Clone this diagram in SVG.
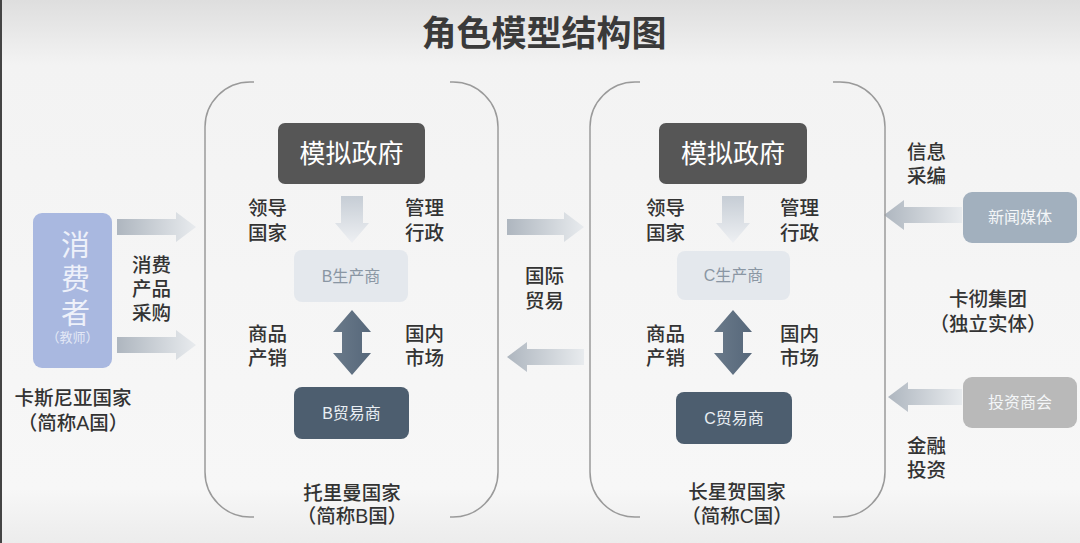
<svg xmlns="http://www.w3.org/2000/svg" width="1080" height="543" viewBox="0 0 1080 543">
<defs>
<linearGradient id="bg" x1="0" y1="0" x2="0" y2="1">
<stop offset="0" stop-color="#dedede"/>
<stop offset="0.12" stop-color="#f3f3f3"/>
<stop offset="0.9" stop-color="#f7f7f7"/>
<stop offset="1" stop-color="#ececec"/>
</linearGradient>
<linearGradient id="hArrow" x1="0" y1="0" x2="1" y2="0">
<stop offset="0" stop-color="#aeb6bf"/>
<stop offset="1" stop-color="#e8ebee"/>
</linearGradient>
<linearGradient id="vArrow" x1="0" y1="0" x2="0" y2="1">
<stop offset="0" stop-color="#c6cdd5"/>
<stop offset="1" stop-color="#eef0f3"/>
</linearGradient>
<linearGradient id="dArrow" x1="0" y1="0" x2="1" y2="0">
<stop offset="0" stop-color="#6a7a8a"/>
<stop offset="1" stop-color="#56677a"/>
</linearGradient>
<style>
text{font-family:"Liberation Sans","Noto Sans CJK SC",sans-serif;}
.title{font-size:35px;font-weight:700;fill:#3a3a3a;text-anchor:middle;}
.lbl{font-size:19.5px;font-weight:500;fill:#333;}
.ctr{text-anchor:middle;}
.frame{fill:none;stroke:#9a9a9a;stroke-width:1.5;}
.gov{fill:#565656;}
.govt{font-size:26px;fill:#ffffff;text-anchor:middle;}
.prod{fill:#e4e8ed;}
.prodt{font-size:16px;fill:#8a96a3;text-anchor:middle;}
.trade{fill:#4d5e6f;}
.tradet{font-size:16px;fill:#e9eef3;text-anchor:middle;}
.media{fill:#a2b0be;}
.invest{fill:#b9b9b9;}
.sidet{font-size:16px;fill:#f4f6f8;text-anchor:middle;}
</style>
</defs>
<rect x="0" y="0" width="1080" height="543" fill="url(#bg)"/>
<rect x="0" y="0" width="2" height="543" fill="#444"/>
<text class="title" x="544" y="46">角色模型结构图</text>

<g id="connectors">
<path d="M117,219 H176 V212 L196,227 L176,242 V235 H117 Z" fill="url(#hArrow)"/>
<path d="M117,337 H176 V330 L196,345 L176,360 V353 H117 Z" fill="url(#hArrow)"/>
<path d="M507,219 H564 V212 L584,227 L564,242 V235 H507 Z" fill="url(#hArrow)"/>
<path d="M584,349 H527 V342 L507,357 L527,372 V365 H584 Z" fill="url(#hArrow)"/>
<path d="M962,207 H904 V200 L884,215 L904,230 V223 H962 Z" fill="url(#hArrow)"/>
<path d="M962,389 H908 V382 L888,397 L908,412 V405 H962 Z" fill="url(#hArrow)"/>
<path d="M341,196 H363 V223 H369 L352,243 L335,223 H341 Z" fill="url(#vArrow)"/>
<path d="M352,310 L371,332 H362 V353 H371 L352,375 L333,353 H342 V332 H333 Z" fill="url(#dArrow)"/>
<path d="M722,196 H744 V223 H750 L733,243 L716,223 H722 Z" fill="url(#vArrow)"/>
<path d="M733,310 L752,332 H743 V353 H752 L733,375 L714,353 H723 V332 H714 Z" fill="url(#dArrow)"/>
</g>

<g id="countryA">
<rect x="33" y="213" width="79" height="155" rx="9" fill="#a9b8e0"/>
<text x="72.5" y="230" font-size="29" fill="#eef1fa" writing-mode="vertical-rl" letter-spacing="5">消费者</text>
<text x="72.5" y="342" font-size="13" fill="#e3e8f6" text-anchor="middle">（教师）</text>
<text class="lbl" x="132" y="272">消费<tspan x="132" dy="24">产品</tspan><tspan x="132" dy="24">采购</tspan></text>
<text class="lbl ctr" x="73" y="405">卡斯尼亚国家<tspan x="73" dy="25">（简称A国）</tspan></text>
</g>

<g id="countryB">
<path class="frame" d="M254,82 H250 A45,45 0 0 0 205,127 V472 A45,45 0 0 0 250,517 H254"/>
<path class="frame" d="M450,82 H453 A45,45 0 0 1 498,127 V472 A45,45 0 0 1 453,517 H450"/>
<rect class="gov" x="278" y="123" width="147" height="61" rx="7"/>
<text class="govt" x="351.5" y="163">模拟政府</text>
<text class="lbl" x="248" y="215">领导<tspan x="248" dy="25">国家</tspan></text>
<text class="lbl" x="405" y="215">管理<tspan x="405" dy="25">行政</tspan></text>
<rect class="prod" x="294" y="250" width="114" height="52" rx="8"/>
<text class="prodt" x="351" y="282">B生产商</text>
<text class="lbl" x="248" y="341">商品<tspan x="248" dy="24">产销</tspan></text>
<text class="lbl" x="405" y="341">国内<tspan x="405" dy="24">市场</tspan></text>
<rect class="trade" x="294" y="387" width="115" height="52" rx="8"/>
<text class="tradet" x="351.5" y="419">B贸易商</text>
<text class="lbl ctr" x="352" y="500">托里曼国家<tspan x="352" dy="23">（简称B国）</tspan></text>
</g>

<g id="trade">
<text class="lbl" x="525" y="283">国际<tspan x="525" dy="25">贸易</tspan></text>
</g>

<g id="countryC">
<path class="frame" d="M640,82 H635 A45,45 0 0 0 590,127 V472 A45,45 0 0 0 635,517 H640"/>
<path class="frame" d="M833,82 H840 A45,45 0 0 1 885,127 V472 A45,45 0 0 1 840,517 H833"/>
<rect class="gov" x="659" y="123" width="148" height="61" rx="7"/>
<text class="govt" x="733" y="163">模拟政府</text>
<text class="lbl" x="646" y="215">领导<tspan x="646" dy="25">国家</tspan></text>
<text class="lbl" x="780" y="215">管理<tspan x="780" dy="25">行政</tspan></text>
<rect class="prod" x="677" y="251" width="113" height="49" rx="8"/>
<text class="prodt" x="733.5" y="281">C生产商</text>
<text class="lbl" x="646" y="341">商品<tspan x="646" dy="24">产销</tspan></text>
<text class="lbl" x="780" y="341">国内<tspan x="780" dy="24">市场</tspan></text>
<rect class="trade" x="676" y="392" width="116" height="52" rx="8"/>
<text class="tradet" x="734" y="424">C贸易商</text>
<text class="lbl ctr" x="737" y="499">长星贺国家<tspan x="737" dy="24">（简称C国）</tspan></text>
</g>

<g id="kache">
<text class="lbl" x="907" y="159">信息<tspan x="907" dy="24">采编</tspan></text>
<rect class="media" x="963" y="192" width="114" height="51" rx="9"/>
<text class="sidet" x="1020" y="223">新闻媒体</text>
<text class="lbl ctr" x="988" y="306">卡彻集团<tspan x="988" dy="25">（独立实体）</tspan></text>
<rect class="invest" x="963" y="377" width="114" height="51" rx="9"/>
<text class="sidet" x="1020" y="408">投资商会</text>
<text class="lbl" x="907" y="453">金融<tspan x="907" dy="24">投资</tspan></text>
</g>
</svg>
